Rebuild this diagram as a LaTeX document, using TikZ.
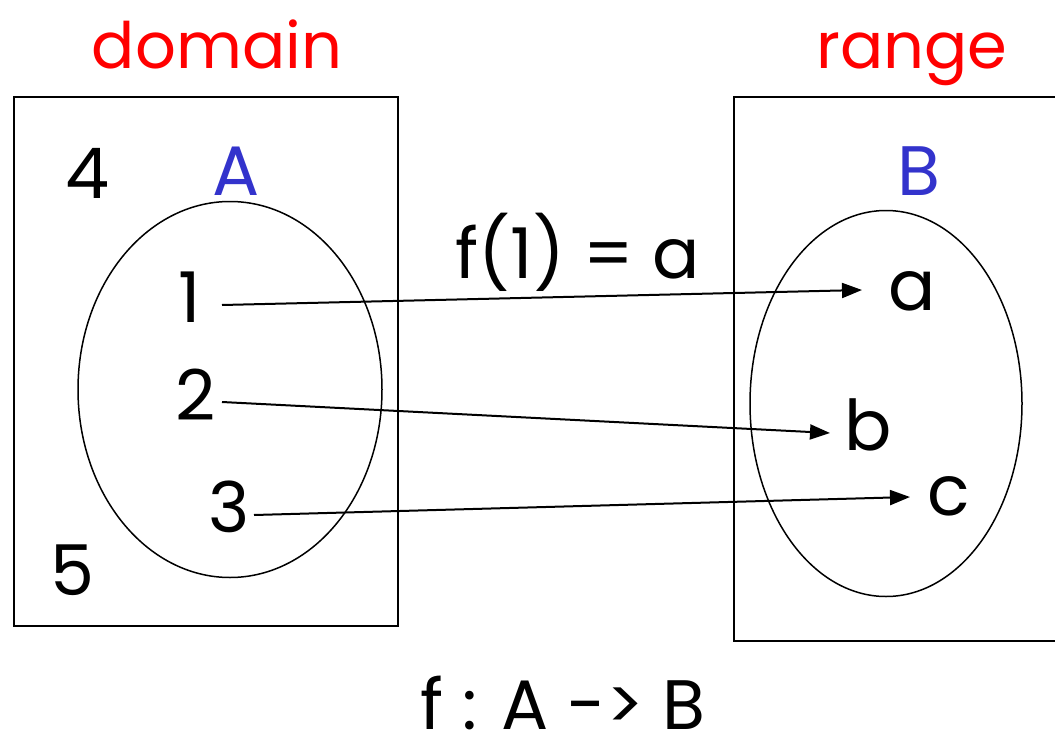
\documentclass[tikz,border=0pt]{standalone}
\usepackage{fontspec}
\setmainfont{Poppins}
\usetikzlibrary{arrows.meta}
\definecolor{domred}{RGB}{255,0,0}
\definecolor{setblue}{RGB}{51,51,204}
\tikzset{
  lbl/.style={anchor=base, inner sep=0pt, font=\fontsize{70}{80}\selectfont},
  redlbl/.style={lbl, text=domred, font=\fontsize{64}{74}\selectfont},
  bluelbl/.style={lbl, text=setblue},
  frame/.style={draw=black, line width=2pt},
  setring/.style={draw=black, line width=1.5pt},
  maparrow/.style={draw=black, line width=2pt, -{Triangle[length=20pt,width=15pt]}},
}
\begin{document}
\begin{tikzpicture}[x=1pt,y=-1pt]
\useasboundingbox (0,0) rectangle (1055,744);
\clip (0,0) rectangle (1055,744);
% frames
\draw[frame] (14,97) rectangle (398,626);
\draw[frame] (734,97) rectangle (1065,641);
% ellipses
\draw[setring] (230,389.5) ellipse [x radius=152, y radius=188];
\draw[setring] (886,403.5) ellipse [x radius=136, y radius=193];
% labels
\node[redlbl] (dom) at (217,68) {domain};
\node[redlbl] (rng) at (912,68) {range};
\node[bluelbl] (A) at (236,195) {A};
\node[bluelbl] (B) at (919,195) {B};
\node[lbl] (n4) at (88,198) {4};
\node[lbl] (n5) at (72,595) {5};
\node[lbl] (n1) at (190,322) {1};
\node[lbl] (n2) at (196,420) {2};
\node[lbl] (n3) at (229,532) {3};
\node[lbl] (la) at (912,310) {a};
\node[lbl] (lb) at (868,450) {b};
\node[lbl] (lc) at (949,515) {c};
\node[lbl] (f1) at (578,278) {f(1) = a};
\node[lbl] (fab) at (563,729) {f : A -> B};
% arrow endpoints
\coordinate (s1) at (222,305);
\coordinate (e1) at (862,290);
\coordinate (s2) at (222,402);
\coordinate (e2) at (830,433);
\coordinate (s3) at (254,515);
\coordinate (e3) at (910,497);
\draw[maparrow] (s1) -- (e1);
\draw[maparrow] (s2) -- (e2);
\draw[maparrow] (s3) -- (e3);
\end{tikzpicture}
\end{document}
